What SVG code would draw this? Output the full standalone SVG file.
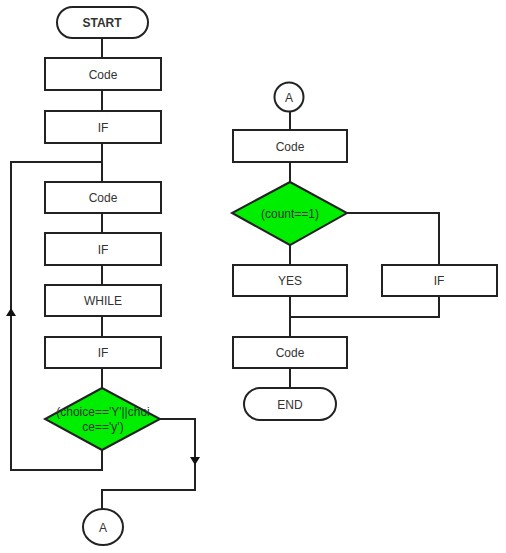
<svg xmlns="http://www.w3.org/2000/svg" width="506" height="553" viewBox="0 0 506 553">
  <defs>
    <style>
      .shape { fill: #ffffff; stroke: #222222; stroke-width: 2; }
      .dec { fill: #00ee00; stroke: #222222; stroke-width: 2; }
      .lbl { font-family: "Liberation Sans", Arial, sans-serif; font-size: 12px; fill: #333333; text-anchor: middle; }
      .wire { fill: none; stroke: #222222; stroke-width: 2; }
    </style>
    <marker id="arrow" markerWidth="8" markerHeight="10" refX="4" refY="5" orient="auto" markerUnits="userSpaceOnUse">
      <path d="M0,0 L8,5 L0,10 Z" fill="#111111"/>
    </marker>
  </defs>
  <rect width="506" height="553" fill="#ffffff"/>

  <!-- connectors -->
  <g id="connectors">
    <path class="wire" d="M102,38 V58"/>
    <path class="wire" d="M102,90 V111"/>
    <path class="wire" d="M102,143 V182"/>
    <path class="wire" d="M102,213 V233"/>
    <path class="wire" d="M102,265 V285"/>
    <path class="wire" d="M102,316 V337"/>
    <path class="wire" d="M102,368 V388"/>
    <!-- loop back from decision -->
    <path class="wire" d="M102,450 V470 H11 V162 H102"/>
    <path class="wire" d="M11,330 V312" marker-end="url(#arrow)"/>
    <!-- exit to connector A -->
    <path class="wire" d="M160,419 H195 V490 H102 V509"/>
    <path class="wire" d="M195,445 V461" marker-end="url(#arrow)"/>
    <!-- right column -->
    <path class="wire" d="M290,111 V130"/>
    <path class="wire" d="M290,162 V182"/>
    <path class="wire" d="M290,245 V265"/>
    <path class="wire" d="M347,213 H439 V265"/>
    <path class="wire" d="M439,296 V317 H290"/>
    <path class="wire" d="M290,296 V337"/>
    <path class="wire" d="M290,368 V388"/>
  </g>

  <!-- left column -->
  <g id="start">
    <rect class="shape" x="57" y="7" width="91" height="31" rx="15.5"/>
    <text class="lbl" x="102" y="27" font-weight="bold">START</text>
  </g>
  <g id="code1">
    <rect class="shape" x="45" y="58" width="116" height="32"/>
    <text class="lbl" x="103" y="78.5">Code</text>
  </g>
  <g id="if1">
    <rect class="shape" x="45" y="111" width="116" height="32"/>
    <text class="lbl" x="103" y="131.5">IF</text>
  </g>
  <g id="code2">
    <rect class="shape" x="45" y="182" width="116" height="31"/>
    <text class="lbl" x="103" y="202">Code</text>
  </g>
  <g id="if2">
    <rect class="shape" x="45" y="233" width="116" height="32"/>
    <text class="lbl" x="103" y="253.5">IF</text>
  </g>
  <g id="while">
    <rect class="shape" x="45" y="285" width="116" height="31"/>
    <text class="lbl" x="103" y="305">WHILE</text>
  </g>
  <g id="if3">
    <rect class="shape" x="45" y="337" width="116" height="31"/>
    <text class="lbl" x="103" y="357">IF</text>
  </g>
  <g id="choice">
    <polygon class="dec" points="102,388 160,419 102,450 45,419"/>
    <text class="lbl" x="103" y="416">(choice=='Y'||choi</text>
    <text class="lbl" x="103" y="431">ce=='y')</text>
  </g>
  <g id="conn-a-out">
    <ellipse class="shape" cx="103" cy="527" rx="20" ry="18"/>
    <text class="lbl" x="103" y="532" font-size="13">A</text>
  </g>

  <!-- right column -->
  <g id="conn-a-in">
    <circle class="shape" cx="289" cy="97" r="14.5"/>
    <text class="lbl" x="289" y="102" font-size="13">A</text>
  </g>
  <g id="code3">
    <rect class="shape" x="233" y="130" width="114" height="32"/>
    <text class="lbl" x="290" y="150.5">Code</text>
  </g>
  <g id="count">
    <polygon class="dec" points="290,182 347,213 290,245 232,213"/>
    <text class="lbl" x="290" y="217.5">(count==1)</text>
  </g>
  <g id="yes">
    <rect class="shape" x="233" y="265" width="114" height="31"/>
    <text class="lbl" x="290" y="285">YES</text>
  </g>
  <g id="if4">
    <rect class="shape" x="382" y="265" width="115" height="31"/>
    <text class="lbl" x="439" y="285">IF</text>
  </g>
  <g id="code4">
    <rect class="shape" x="233" y="337" width="114" height="31"/>
    <text class="lbl" x="290" y="357">Code</text>
  </g>
  <g id="end">
    <rect class="shape" x="244" y="388" width="92" height="32" rx="16"/>
    <text class="lbl" x="290" y="408.5">END</text>
  </g>
</svg>
